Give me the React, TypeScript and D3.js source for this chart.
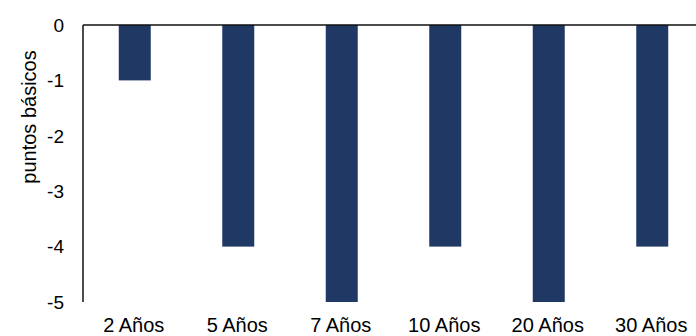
import React from "react";
import * as d3 from "d3";

const categories = ["2 Años", "5 Años", "7 Años", "10 Años", "20 Años", "30 Años"];
const values = [-1, -4, -5, -4, -5, -4];
const yTicks = [0, -1, -2, -3, -4, -5];
const titleText = "Variación de los rendimientos de los bonos del Tesoro de Estados Unidos";
const yLabel = "puntos básicos";

export default function App() {
  const W = 696;
  const H = 336;
  const left = 83;
  const top = 25;
  const bottom = 302;
  const bandW = 103.5;
  const x = d3
    .scaleBand<string>()
    .domain(categories)
    .range([left, left + bandW * categories.length])
    .paddingInner(0.691)
    .paddingOuter(0.3455);
  const y = d3.scaleLinear().domain([0, -5]).range([top, bottom]);
  const font = "'Liberation Sans', Arial, sans-serif";
  return (
    <svg
      width={W}
      height={H}
      style={{ position: "absolute", left: 0, top: 0, overflow: "hidden" }}
    >
      <rect x={0} y={0} width={W} height={H} fill="#ffffff" />
      <text x={8} y={-1.5} fontFamily={font} fontSize={19} fill="#b4c0d8">
        {titleText}
      </text>
      {categories.map((c, i) => (
        <rect
          key={c}
          x={x(c)}
          y={y(0)}
          width={x.bandwidth()}
          height={y(values[i]) - y(0)}
          fill="#203864"
        />
      ))}
      <line x1={left} x2={W} y1={y(0)} y2={y(0)} stroke="#111" strokeWidth={1.5} />
      <line x1={left} x2={left} y1={y(0)} y2={y(-5)} stroke="#111" strokeWidth={1.5} />
      {yTicks.map((t) => (
        <text
          key={t}
          x={64}
          y={y(t)}
          dy="0.36em"
          textAnchor="end"
          fontFamily={font}
          fontSize={19}
          fill="#000"
        >
          {t}
        </text>
      ))}
      {categories.map((c) => (
        <text
          key={c}
          x={(x(c) as number) + x.bandwidth() / 2 - 1}
          y={332}
          textAnchor="middle"
          fontFamily={font}
          fontSize={20}
          fill="#000"
        >
          {c}
        </text>
      ))}
      <text
        transform={`translate(36,${117}) rotate(-90)`}
        textAnchor="middle"
        fontFamily={font}
        fontSize={20}
        fill="#000"
      >
        {yLabel}
      </text>
    </svg>
  );
}
